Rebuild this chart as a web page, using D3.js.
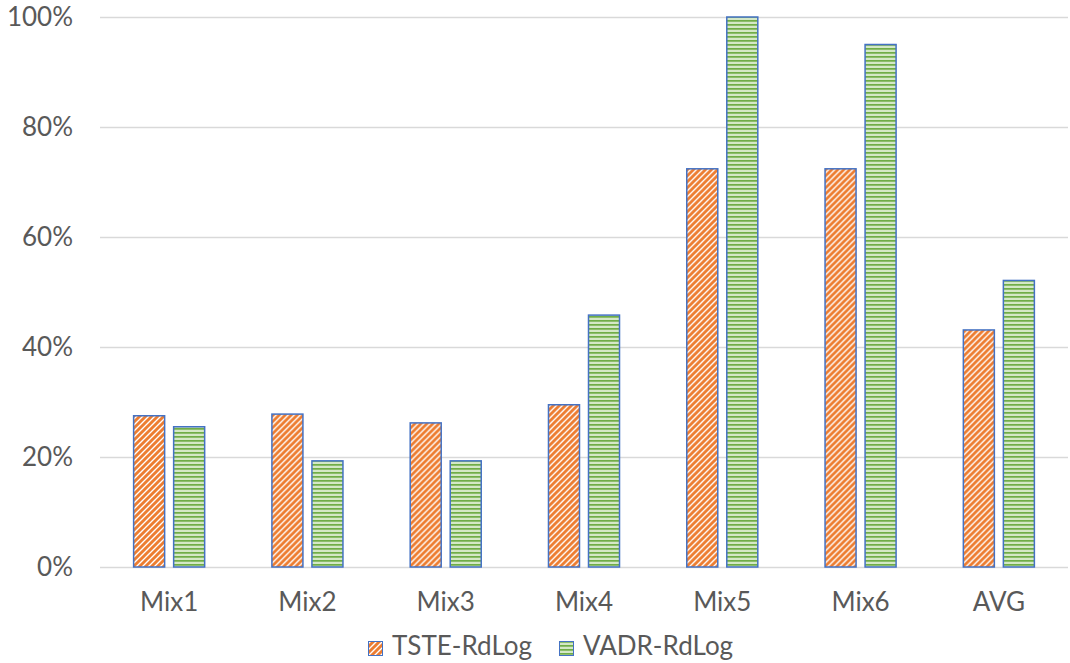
<!DOCTYPE html>
<html>
<head>
<meta charset="utf-8">
<script src="https://cdn.jsdelivr.net/npm/d3@7"></script>
<style>
  html, body { margin: 0; padding: 0; background: #fff; }
  svg { display: block; font-family: Lato, "Open Sans", sans-serif; }
</style>
</head>
<body>
<svg id="chart" width="1070" height="663"></svg>
<script>
// Categories and series (percent values)
const categories = ["Mix1", "Mix2", "Mix3", "Mix4", "Mix5", "Mix6", "AVG"];
const seriesNames = ["TSTE-RdLog", "VADR-RdLog"];
const tsteValues = [27.5, 27.8, 26.2, 29.5, 72.4, 72.4, 43.1];
const vadrValues = [25.5, 19.3, 19.3, 45.8, 100.0, 95.0, 52.1];
const yTicks = [0, 20, 40, 60, 80, 100];

const svg = d3.select("#chart");
const margin = { left: 100, right: 2, top: 17, bottom: 96 };
const W = 1070, H = 663;
const FONT = "26px";

const x0 = d3.scaleBand().domain(categories).range([margin.left, W - margin.right]).padding(0);
const x1 = d3.scaleBand().domain(seriesNames).range([0, x0.bandwidth()]).paddingInner(0.225).paddingOuter(0.84);
const y = d3.scaleLinear().domain([0, 100]).range([H - margin.bottom, margin.top]);

// Fill patterns
const defs = svg.append("defs");
const pDiag = defs.append("pattern").attr("id", "diag").attr("patternUnits", "userSpaceOnUse")
  .attr("width", 6).attr("height", 6);
pDiag.append("rect").attr("width", 6).attr("height", 6).attr("fill", "#fff");
pDiag.append("path").attr("d", "M-1.5,1.5 L1.5,-1.5 M0,6 L6,0 M4.5,7.5 L7.5,4.5")
  .attr("stroke", "#ed7d31").attr("stroke-width", 2.9);

const pHoriz = defs.append("pattern").attr("id", "horiz").attr("patternUnits", "userSpaceOnUse")
  .attr("width", 8).attr("height", 4);
pHoriz.append("rect").attr("width", 8).attr("height", 4).attr("fill", "#fff");
pHoriz.append("rect").attr("y", 0).attr("width", 8).attr("height", 1.8).attr("fill", "#70ad47");
pHoriz.append("rect").attr("y", 2.5).attr("width", 8).attr("height", 1).attr("fill", "#a9d18e");

const fills = { "TSTE-RdLog": "url(#diag)", "VADR-RdLog": "url(#horiz)" };

// Gridlines
svg.append("g").selectAll("line").data(yTicks).join("line")
  .attr("x1", margin.left).attr("x2", W - margin.right)
  .attr("y1", d => Math.round(y(d)) + 0.5).attr("y2", d => Math.round(y(d)) + 0.5)
  .attr("stroke", "#d9d9d9").attr("stroke-width", 1.3);

// Y axis labels
const yAxis = d3.axisLeft(y).tickValues(yTicks).tickFormat(d => d + "%").tickSize(0).tickPadding(0);
const gy = svg.append("g").attr("transform", "translate(73,0)").call(yAxis);
gy.select(".domain").remove();
gy.selectAll("text").attr("fill", "#595959").style("font-size", FONT)
  .style("font-family", "Lato, 'Open Sans', sans-serif");

// X axis labels
const xAxis = d3.axisBottom(x0).tickSize(0).tickPadding(0);
const gx = svg.append("g").attr("transform", `translate(0,${H - margin.bottom + 26})`).call(xAxis);
gx.select(".domain").remove();
gx.selectAll("text").attr("fill", "#595959").style("font-size", FONT)
  .style("font-family", "Lato, 'Open Sans', sans-serif");

// Bars
const rows = categories.map((c, i) => ({ cat: c, vals: [
  { name: seriesNames[0], v: tsteValues[i] },
  { name: seriesNames[1], v: vadrValues[i] }
]}));
const groups = svg.append("g").selectAll("g").data(rows).join("g")
  .attr("transform", d => `translate(${x0(d.cat)},0)`);
groups.selectAll("rect").data(d => d.vals).join("rect")
  .attr("x", d => x1(d.name))
  .attr("y", d => y(d.v))
  .attr("width", x1.bandwidth())
  .attr("height", d => y(0) - y(d.v))
  .attr("fill", d => fills[d.name])
  .attr("stroke", "#4472c4").attr("stroke-width", 1.5);

// Legend
const legend = svg.append("g");
const legendX = [368, 559];
seriesNames.forEach((name, i) => {
  const g = legend.append("g").attr("transform", `translate(${legendX[i]},641)`);
  g.append("rect").attr("x", 0.5).attr("y", 0.5).attr("width", 14).attr("height", 14)
    .attr("fill", fills[name]).attr("stroke", "#4472c4").attr("stroke-width", 1);
  g.append("text").attr("x", 24).attr("y", 14)
    .attr("fill", "#595959").style("font-size", FONT).text(name);
});
</script>
</body>
</html>
